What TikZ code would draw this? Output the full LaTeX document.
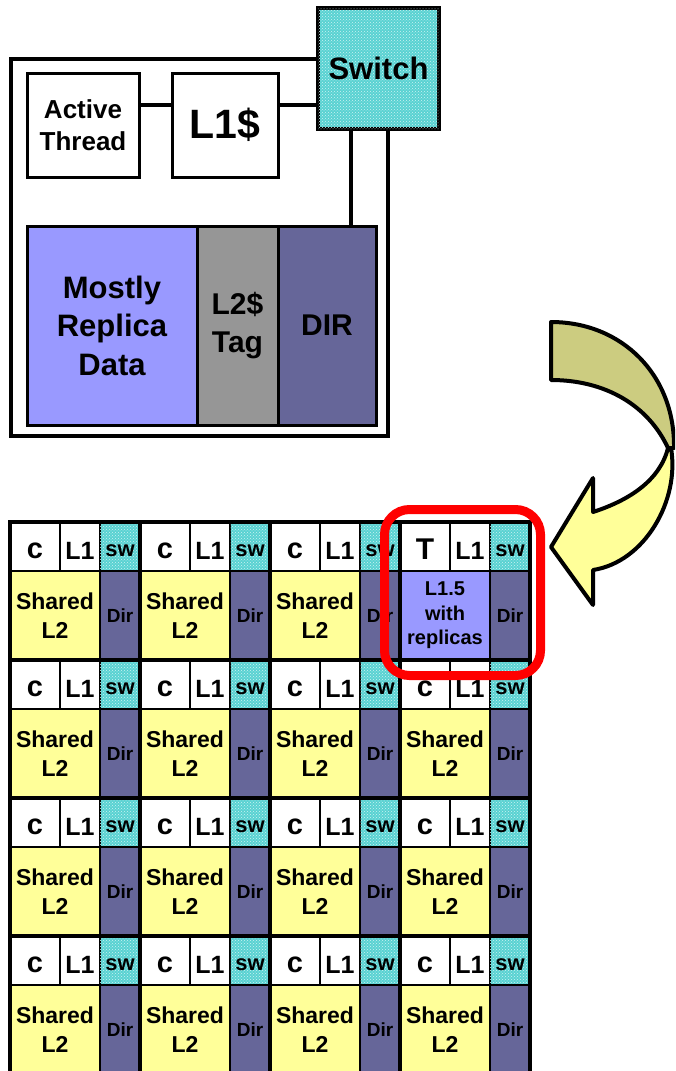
\documentclass[tikz,border=0pt]{standalone}
\usepackage{fontspec}
\setmainfont{Liberation Sans}
\usetikzlibrary{patterns}
\definecolor{lav}{HTML}{9999FF}
\definecolor{tagg}{HTML}{969696}
\definecolor{dirc}{HTML}{666699}
\definecolor{yel}{HTML}{FFFF99}
\definecolor{tealc}{HTML}{3CCACA}
\definecolor{olivec}{HTML}{CCCC80}
\definecolor{redc}{HTML}{FF0000}
\newcommand{\gridtile}[6]{%
  \node[cell, fill=white, fs={29}{30}, text height=25pt, minimum width=50, minimum height=49] (#1c) at ({#2+25},{#3+24.5}) {#4};
  \node[cell, fill=white, fs={25}{26}, text height=25pt, minimum width=40, minimum height=49] (#1l) at ({#2+70},{#3+24.5}) {L1};
  \node[cell, swfill, fs={22}{24}, text height=20pt, minimum width=40, minimum height=49] (#1s) at ({#2+110},{#3+24.5}) {sw};
  \node[cell, #6, minimum width=90, minimum height=89] (#1m) at ({#2+45},{#3+93.5}) {#5};
  \node[cell, fill=dirc, fs={19}{22}, minimum width=40, minimum height=89] (#1d) at ({#2+110},{#3+93.5}) {Dir};
}
\begin{document}
\begin{tikzpicture}[x=1pt,y=-1pt,
  fs/.style 2 args={font={\fontsize{#1}{#2}\selectfont\bfseries}},
  blk/.style={draw=black, line width=3pt, inner sep=0pt, align=center},
  cell/.style={draw=black, line width=1.3pt, inner sep=0pt, align=center},
  swfill/.style={fill=tealc!85!white, postaction={pattern=crosshatch dots, pattern color=white!75!tealc}},
  thick grid/.style={line width=3.5pt},
  ribbon/.style={draw=black, line width=4pt, line join=round}]
\useasboundingbox (0,0) rectangle (675,1071);
\clip (0,0) rectangle (675,1071);
% ---- top diagram ----
\node[draw=black, line width=4pt, minimum width=377, minimum height=377, inner sep=0pt] (outer) at (199.5,247.5) {};
\node[blk, fill=white, fs={26}{32}, minimum width=112, minimum height=104] (at) at (83,125) {Active\\Thread};
\node[blk, fill=white, fs={41}{48}, minimum width=106, minimum height=104] (l1) at (225,125) {L1\$};
\node[blk, line width=4pt, swfill, fs={31}{36}, minimum width=121, minimum height=121] (sw) at (378.5,68.5) {Switch};
\node[blk, fill=lav, fs={31}{38.5}, minimum width=170, minimum height=199] (mrd) at (112,325.5) {Mostly\\Replica\\Data};
\node[blk, fill=tagg, fs={30}{38}, minimum width=81, minimum height=199] (tag) at (237.5,325.5) {L2\$\\Tag};
\node[blk, fill=dirc, fs={30}{36}, minimum width=98, minimum height=199] (dir) at (327,325.5) {DIR};
\coordinate (y105) at (0,105);
\coordinate (x351) at (351,0);
\draw[line width=4pt] (at.east |- y105) -- (l1.west |- y105);
\draw[line width=4pt] (l1.east |- y105) -- (sw.west |- y105);
\draw[line width=4pt] (sw.south -| x351) -- (dir.north -| x351);
% ---- grid ----
\foreach \i in {0,1,2,3} {
  \foreach \j in {1,2,3} {
    \gridtile{t\i\j}{10+130*\i}{522+138*\j}{c}{Shared\\L2}{fill=yel, fs={23}{29}}
  }
}
\foreach \i in {0,1,2} {
  \gridtile{t\i0}{10+130*\i}{522}{c}{Shared\\L2}{fill=yel, fs={23}{29}}
}
\gridtile{t30}{400}{522}{\fontsize{30}{30}\selectfont T}{L1.5\\with\\replicas}{fill=lav, fs={20}{24.5}}
\foreach \k in {0,...,4} {
  \draw[thick grid] ({10+130*\k},520.25) -- ({10+130*\k},1085);
}
\foreach \k in {0,...,3} {
  \draw[thick grid] (8.25,{522+138*\k}) -- (531.75,{522+138*\k});
}
% ---- highlight ----
\node[draw=redc, line width=9pt, rounded corners=25pt, minimum width=156, minimum height=166, inner sep=0pt] (hl) at (462.5,592.5) {};
% ---- curved arrow ----
\draw[ribbon, fill=olivec] (551,322) .. controls (622,322) and (675,375) .. (674,448)
  -- (668,448) .. controls (648,405) and (605,380) .. (551,380) -- cycle;
\draw[ribbon, fill=yel] (671,448) .. controls (680,500) and (645,562) .. (593,570)
  -- (593,605) -- (551,547) -- (593,478) -- (593,512)
  .. controls (630,500) and (660,480) .. (668,448) -- cycle;
\end{tikzpicture}
\end{document}
